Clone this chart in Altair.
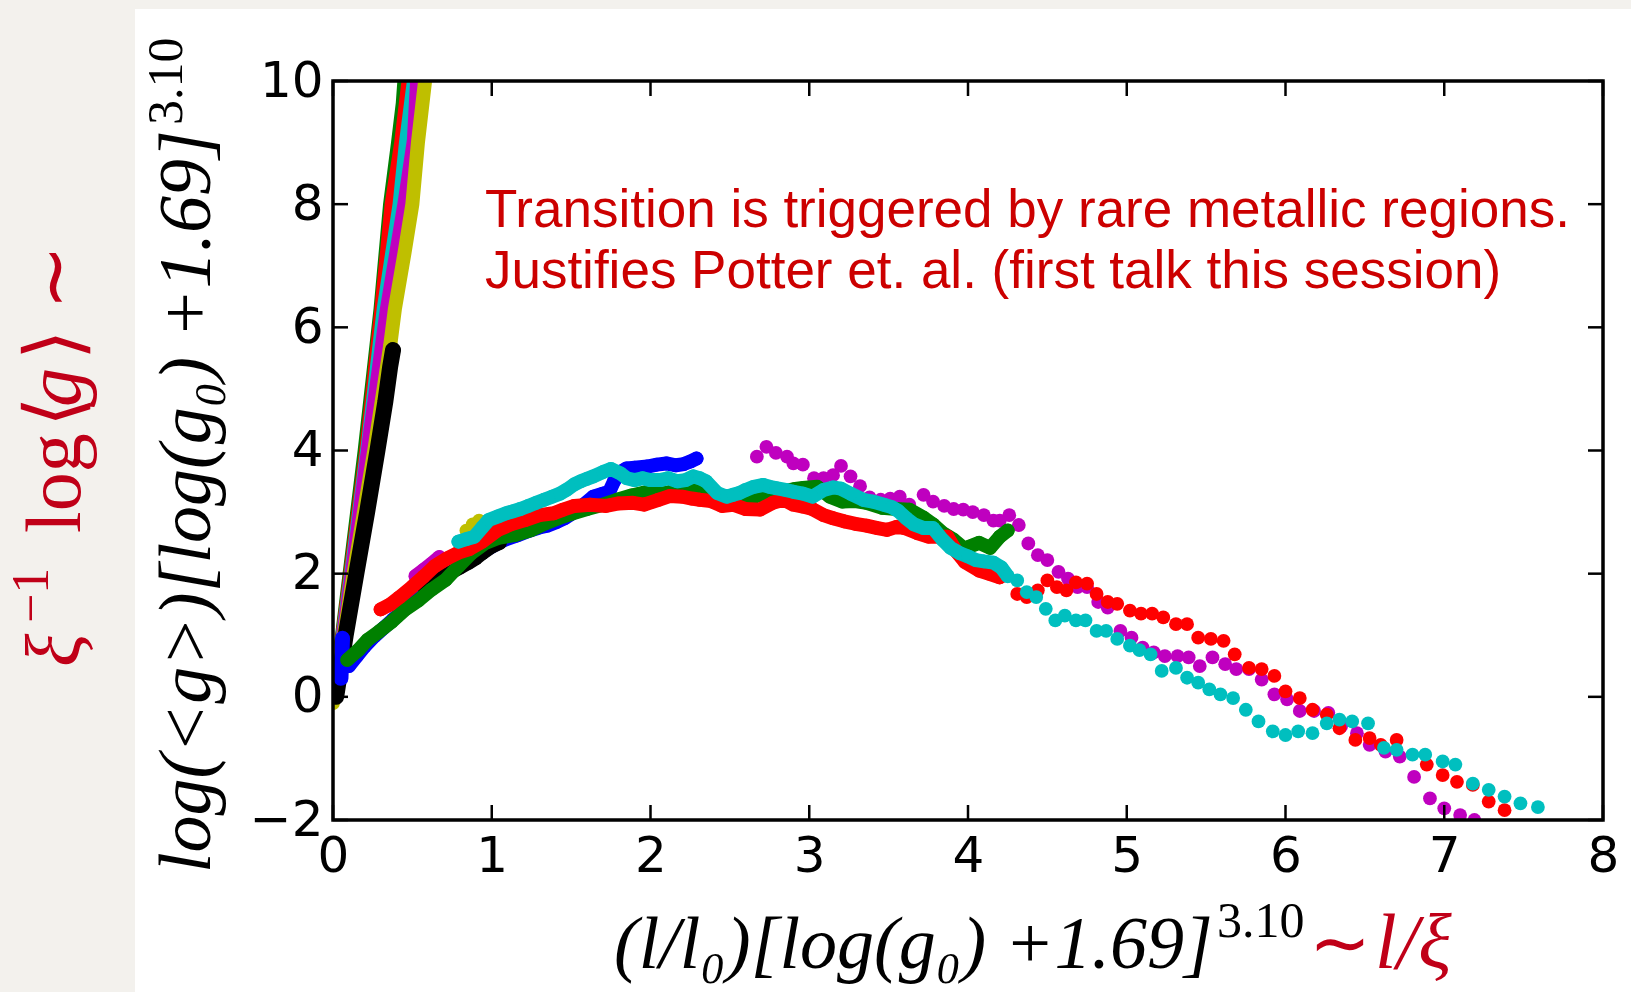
import altair as alt
import pandas as pd

# ---------------- data ----------------
X_TICKS = [0, 1, 2, 3, 4, 5, 6, 7, 8]
Y_TICKS = [-2, 0, 2, 4, 6, 8, 10]

# steep (upper) branch, continuous bands of dots: vertices read along each band
STEEP_GREEN_X = [0.00, 0.095, 0.19, 0.29, 0.35, 0.40, 0.43, 0.44]
STEEP_GREEN_Y = [0.00, 2.00, 4.00, 6.30, 8.00, 9.00, 9.64, 10.00]
STEEP_RED_X = [0.00, 0.10, 0.20, 0.296, 0.36, 0.42, 0.466]
STEEP_RED_Y = [0.00, 2.00, 4.00, 6.30, 8.00, 9.00, 10.00]
STEEP_CYAN_X = [0.00, 0.105, 0.214, 0.31, 0.41, 0.45, 0.50]
STEEP_CYAN_Y = [0.00, 2.00, 4.17, 6.30, 8.00, 9.00, 10.00]
STEEP_MAGENTA_X = [0.00, 0.11, 0.22, 0.33, 0.44, 0.50, 0.52]
STEEP_MAGENTA_Y = [0.00, 2.00, 4.20, 6.30, 8.00, 9.04, 10.00]
STEEP_YELLOW_X = [0.00, 0.07, 0.13, 0.26, 0.36, 0.39, 0.45, 0.50, 0.535, 0.58]
STEEP_YELLOW_Y = [-0.10, 1.00, 2.00, 4.00, 5.70, 6.30, 7.20, 8.00, 9.00, 10.00]
STEEP_BLACK_X = [0.02, 0.08, 0.147, 0.215, 0.28, 0.33, 0.36, 0.378]
STEEP_BLACK_Y = [0.00, 1.00, 2.00, 3.00, 4.00, 4.80, 5.36, 5.63]
STEEP_BLUE_X = [0.05, 0.055, 0.06]
STEEP_BLUE_Y = [0.30, 0.62, 0.95]

# arched (lower) branch, dots
YELLOW_ARCH_X = [0.84, 0.88, 0.92]
YELLOW_ARCH_Y = [2.70, 2.80, 2.86]

MAGENTA_EARLY_X = [0.52, 0.57, 0.62, 0.67]
MAGENTA_EARLY_Y = [1.96, 2.06, 2.16, 2.27]

MAGENTA_TAIL_X = [2.67, 2.73, 2.79, 2.86, 2.90, 2.96, 3.03, 3.09, 3.15, 3.20,
                  3.26, 3.32, 3.38, 3.45, 3.51, 3.57, 3.63, 3.72, 3.78, 3.85,
                  3.91, 3.97, 4.03, 4.10, 4.16, 4.20, 4.26, 4.32, 4.38, 4.44,
                  4.50, 4.57, 4.63, 4.69, 4.75, 4.82, 4.88, 4.96, 5.03, 5.10,
                  5.17, 5.24, 5.32, 5.39, 5.46, 5.54, 5.62, 5.69, 5.77, 5.85,
                  5.93, 6.01, 6.09, 6.18, 6.27, 6.35, 6.45, 6.53, 6.63, 6.72,
                  6.81, 6.91, 7.00, 7.10, 7.19]
MAGENTA_TAIL_Y = [3.90, 4.06, 3.96, 3.90, 3.79, 3.77, 3.55, 3.55, 3.60, 3.75,
                  3.58, 3.42, 3.24, 3.20, 3.22, 3.25, 3.12, 3.28, 3.17, 3.10,
                  3.05, 3.04, 3.00, 2.95, 2.86, 2.86, 2.95, 2.79, 2.49, 2.30,
                  2.22, 2.03, 1.92, 1.78, 1.78, 1.54, 1.45, 1.07, 0.96, 0.80,
                  0.72, 0.66, 0.66, 0.64, 0.50, 0.64, 0.53, 0.45, 0.45, 0.28,
                  0.04, -0.04, -0.23, -0.23, -0.26, -0.48, -0.59, -0.78, -0.89, -0.97,
                  -1.30, -1.65, -1.81, -1.92, -2.00]

BLUE_ARCH_X = [0.10, 0.15, 0.20, 0.26, 0.32, 0.38, 0.45, 0.52, 0.60, 0.70,
               0.80, 0.90, 1.00, 1.08, 1.16, 1.24, 1.30, 1.35, 1.41, 1.46,
               1.52, 1.58, 1.64, 1.70, 1.74, 1.77, 1.81, 1.85, 1.90, 1.98,
               2.04, 2.10, 2.16, 2.21, 2.25, 2.29]
BLUE_ARCH_Y = [0.50, 0.66, 0.82, 0.98, 1.12, 1.26, 1.42, 1.58, 1.75, 1.95,
               2.12, 2.28, 2.44, 2.55, 2.62, 2.70, 2.75, 2.78, 2.84, 2.90,
               3.00, 3.12, 3.25, 3.30, 3.33, 3.50, 3.65, 3.71, 3.72, 3.74,
               3.77, 3.79, 3.76, 3.78, 3.82, 3.87]

BLACK_ARCH_X = [0.58, 0.64, 0.70, 0.75, 0.80, 0.85, 0.90, 0.94, 1.00, 1.05, 1.16]
BLACK_ARCH_Y = [1.75, 1.90, 1.97, 2.03, 2.10, 2.17, 2.25, 2.33, 2.44, 2.50, 2.87]

GREEN_ARCH_X = [0.09, 0.16, 0.22, 0.29, 0.37, 0.45, 0.54, 0.62, 0.71, 0.79,
                0.87, 0.96, 1.04, 1.15, 1.25, 1.34, 1.42, 1.50, 1.60, 1.70,
                1.79, 1.88, 1.98, 2.08, 2.18, 2.31, 2.38, 2.44, 2.52, 2.60,
                2.70, 2.80, 2.90, 2.96, 3.05, 3.13, 3.21, 3.29, 3.36, 3.46,
                3.55, 3.63, 3.72, 3.78, 3.84, 3.91, 3.98, 4.01, 4.07, 4.14,
                4.20, 4.25]
GREEN_ARCH_Y = [0.60, 0.76, 0.93, 1.06, 1.22, 1.41, 1.57, 1.74, 1.90, 2.12,
                2.33, 2.50, 2.58, 2.63, 2.71, 2.82, 2.90, 2.97, 3.05, 3.12,
                3.20, 3.27, 3.33, 3.30, 3.36, 3.39, 3.25, 3.12, 3.17, 3.22,
                3.28, 3.32, 3.37, 3.39, 3.41, 3.25, 3.17, 3.18, 3.15, 3.07,
                3.05, 3.04, 2.91, 2.80, 2.66, 2.55, 2.40, 2.44, 2.50, 2.42,
                2.60, 2.70]

RED_ARCH_X = [0.30, 0.36, 0.42, 0.50, 0.57, 0.64, 0.72, 0.79, 0.86, 0.94,
              1.04, 1.12, 1.21, 1.30, 1.39, 1.45, 1.52, 1.62, 1.72, 1.80,
              1.89, 1.96, 2.05, 2.12, 2.20, 2.26, 2.31, 2.38, 2.45, 2.52,
              2.60, 2.69, 2.77, 2.84, 2.90, 2.96, 3.02, 3.09, 3.15, 3.22,
              3.29, 3.36, 3.43, 3.49, 3.55, 3.60, 3.68, 3.75, 3.82, 3.87,
              3.93, 3.98, 4.07, 4.13, 4.20, 4.31, 4.37, 4.44, 4.50, 4.56,
              4.62, 4.68, 4.75, 4.81, 4.88, 4.94, 5.02, 5.09, 5.16, 5.23,
              5.31, 5.38, 5.45, 5.53, 5.61, 5.68, 5.77, 5.85, 5.93, 6.00,
              6.09, 6.17, 6.26, 6.34, 6.44, 6.53, 6.60, 6.70, 6.89, 6.99,
              7.08, 7.18, 7.28, 7.38]
RED_ARCH_Y = [1.42, 1.50, 1.62, 1.79, 1.95, 2.12, 2.25, 2.34, 2.40, 2.52,
              2.71, 2.80, 2.87, 2.95, 2.98, 3.04, 3.10, 3.12, 3.10, 3.14,
              3.15, 3.12, 3.20, 3.26, 3.25, 3.22, 3.20, 3.18, 3.10, 3.12,
              3.05, 3.04, 3.15, 3.20, 3.12, 3.09, 3.05, 2.95, 2.90, 2.85,
              2.81, 2.78, 2.74, 2.71, 2.76, 2.74, 2.66, 2.60, 2.60, 2.60,
              2.35, 2.19, 2.05, 2.00, 1.94, 1.67, 1.62, 1.73, 1.89, 1.78,
              1.73, 1.86, 1.84, 1.67, 1.54, 1.51, 1.40, 1.35, 1.35, 1.29,
              1.18, 1.18, 0.96, 0.94, 0.91, 0.69, 0.47, 0.45, 0.34, 0.09,
              -0.02, -0.21, -0.29, -0.51, -0.70, -0.67, -0.78, -0.70, -1.10, -1.27,
              -1.38, -1.43, -1.70, -1.84]

CYAN_ARCH_X = [0.79, 0.84, 0.89, 0.94, 0.98, 1.04, 1.09, 1.13, 1.18, 1.23,
               1.28, 1.33, 1.38, 1.43, 1.47, 1.52, 1.56, 1.60, 1.64, 1.70,
               1.75, 1.81, 1.85, 1.90, 1.95, 2.00, 2.06, 2.11, 2.17, 2.22,
               2.27, 2.31, 2.35, 2.42, 2.48, 2.52, 2.56, 2.60, 2.65, 2.71,
               2.75, 2.79, 2.85, 2.90, 2.96, 3.02, 3.09, 3.15, 3.20, 3.26,
               3.34, 3.40, 3.47, 3.52, 3.56, 3.61, 3.66, 3.72, 3.78, 3.84,
               3.89, 3.95, 4.00, 4.05, 4.10, 4.16, 4.21, 4.25, 4.31, 4.37,
               4.43, 4.49, 4.55, 4.61, 4.68, 4.74, 4.81, 4.87, 4.94, 5.02,
               5.08, 5.15, 5.22, 5.31, 5.38, 5.45, 5.52, 5.59, 5.67, 5.75,
               5.83, 5.92, 6.00, 6.08, 6.17, 6.26, 6.34, 6.42, 6.52, 6.62,
               6.70, 6.80, 6.88, 6.99, 7.07, 7.18, 7.28, 7.38, 7.48, 7.59]
CYAN_ARCH_Y = [2.52, 2.56, 2.60, 2.75, 2.87, 2.93, 2.98, 3.01, 3.05, 3.10,
               3.15, 3.20, 3.25, 3.30, 3.36, 3.45, 3.50, 3.54, 3.58, 3.65,
               3.70, 3.63, 3.55, 3.52, 3.55, 3.52, 3.52, 3.55, 3.50, 3.52,
               3.58, 3.55, 3.50, 3.31, 3.25, 3.28, 3.31, 3.36, 3.41, 3.44,
               3.41, 3.39, 3.36, 3.33, 3.30, 3.25, 3.36, 3.40, 3.38, 3.30,
               3.20, 3.17, 3.12, 3.08, 3.02, 2.90, 2.80, 2.74, 2.74, 2.55,
               2.42, 2.33, 2.28, 2.22, 2.20, 2.18, 2.10, 1.96, 1.89, 1.70,
               1.62, 1.43, 1.24, 1.32, 1.24, 1.24, 1.07, 1.07, 0.94, 0.83,
               0.76, 0.69, 0.42, 0.47, 0.31, 0.23, 0.12, 0.04, -0.02, -0.21,
               -0.40, -0.56, -0.62, -0.56, -0.59, -0.43, -0.37, -0.40, -0.43, -0.83,
               -0.86, -0.94, -0.94, -1.05, -1.10, -1.41, -1.51, -1.62, -1.73, -1.79]

# number of leading points of each arch that merge into a continuous band
RED_BAND_N = 55
CYAN_BAND_N = 68
BLACK_BAND_N = 10

ANNOTATION = ["Transition is triggered by rare metallic regions.",
              "Justifies Potter et. al. (first talk this session)"]
ANNOT_X = [0.957, 0.957]
ANNOT_Y = [7.63, 6.64]

# ---------------- styling ----------------
W, H = 1270, 739
C_B, C_G, C_R = "#0000ff", "#008000", "#ff0000"
C_C, C_M, C_Y, C_K = "#00bfbf", "#bf00bf", "#bfbf00", "#000000"
SLIDE_RED = "#c00018"
NOTE_RED = "#cc0000"
SERIF = "Liberation Serif"
DOT = 190
BANDW = 14

SX = alt.Scale(domain=[0, 8], nice=False, zero=False)
SY = alt.Scale(domain=[-2, 10], nice=False, zero=False)
AX_X = alt.Axis(values=X_TICKS, labelFontSize=50, labelFont="DejaVu Sans",
                labelColor="black", labelPadding=11, ticks=False, tickSize=0,
                domain=False, grid=False, title=None, labelFlush=False,
                labelOverlap=False, labelAngle=0, format="d", zindex=2)
AX_Y = alt.Axis(values=Y_TICKS, labelFontSize=50, labelFont="DejaVu Sans",
                labelColor="black", labelPadding=10, ticks=False, tickSize=0,
                domain=False, grid=False, title=None, labelFlush=False,
                labelOverlap=False, format="d", zindex=2,
                labelExpr="datum.value < 0 ? '\u2212' + (-datum.value) : datum.label")

ONE = pd.DataFrame({"k": [0]})


def xy(xs, ys):
    return pd.DataFrame({"x": xs, "y": ys, "i": list(range(len(xs)))})


def enc():
    return dict(x=alt.X("x:Q", scale=SX, axis=AX_X),
                y=alt.Y("y:Q", scale=SY, axis=AX_Y))


def band(xs, ys, color, w=BANDW):
    return alt.Chart(xy(xs, ys)).mark_line(
        color=color, strokeWidth=w, strokeCap="round", strokeJoin="round",
        clip=True).encode(order="i:Q", **enc())


def dots(xs, ys, color, size=DOT):
    return alt.Chart(xy(xs, ys)).mark_circle(
        color=color, size=size, opacity=1, clip=True).encode(**enc())


def label(text, px, py, size, color="black", italic=False, angle=0):
    kw = dict(align="left", baseline="alphabetic", font=SERIF, fontSize=size,
              color=color, angle=angle)
    if italic:
        kw["fontStyle"] = "italic"
    return alt.Chart(ONE).mark_text(**kw).encode(
        x=alt.value(px), y=alt.value(py), text=alt.value(text))


panel = alt.Chart(ONE).mark_rect(color="white").encode(
    x=alt.value(-198), x2=alt.value(1298), y=alt.value(-72), y2=alt.value(911))

layers = [panel]
# steep branch
layers += [
    band(STEEP_GREEN_X, STEEP_GREEN_Y, C_G, 11),
    band(STEEP_RED_X, STEEP_RED_Y, C_R, 11),
    band(STEEP_CYAN_X, STEEP_CYAN_Y, C_C, 11),
    band(STEEP_MAGENTA_X, STEEP_MAGENTA_Y, C_M, 11),
    band(STEEP_YELLOW_X, STEEP_YELLOW_Y, C_Y, 14),
    band(STEEP_BLACK_X, STEEP_BLACK_Y, C_K, 16),
    dots(STEEP_BLACK_X[-1:], STEEP_BLACK_Y[-1:], C_K, 230),
    band(STEEP_BLUE_X, STEEP_BLUE_Y, C_B, 15),
]
# arch branch
layers += [
    dots(YELLOW_ARCH_X, YELLOW_ARCH_Y, C_Y),
    band(MAGENTA_EARLY_X, MAGENTA_EARLY_Y, C_M),
    dots(MAGENTA_EARLY_X, MAGENTA_EARLY_Y, C_M),
    dots(MAGENTA_TAIL_X, MAGENTA_TAIL_Y, C_M),
    band(BLUE_ARCH_X, BLUE_ARCH_Y, C_B),
    dots(BLUE_ARCH_X, BLUE_ARCH_Y, C_B),
    band(BLACK_ARCH_X[:BLACK_BAND_N], BLACK_ARCH_Y[:BLACK_BAND_N], C_K),
    dots(BLACK_ARCH_X, BLACK_ARCH_Y, C_K),
    band(GREEN_ARCH_X, GREEN_ARCH_Y, C_G),
    dots(GREEN_ARCH_X, GREEN_ARCH_Y, C_G),
    band(RED_ARCH_X[:RED_BAND_N], RED_ARCH_Y[:RED_BAND_N], C_R),
    dots(RED_ARCH_X, RED_ARCH_Y, C_R),
    band(CYAN_ARCH_X[:CYAN_BAND_N], CYAN_ARCH_Y[:CYAN_BAND_N], C_C),
    dots(CYAN_ARCH_X, CYAN_ARCH_Y, C_C),
]

# inward ticks on all four sides
ytk = pd.DataFrame({"t": Y_TICKS})
xtk = pd.DataFrame({"t": X_TICKS})
tick_style = dict(color="black", strokeWidth=2.5)
layers += [
    alt.Chart(ytk).mark_rule(**tick_style).encode(
        y=alt.Y("t:Q", scale=SY, axis=AX_Y), x=alt.value(0), x2=alt.value(15)),
    alt.Chart(ytk).mark_rule(**tick_style).encode(
        y=alt.Y("t:Q", scale=SY, axis=AX_Y), x=alt.value(W), x2=alt.value(W - 15)),
    alt.Chart(xtk).mark_rule(**tick_style).encode(
        x=alt.X("t:Q", scale=SX, axis=AX_X), y=alt.value(H), y2=alt.value(H - 15)),
    alt.Chart(xtk).mark_rule(**tick_style).encode(
        x=alt.X("t:Q", scale=SX, axis=AX_X), y=alt.value(0), y2=alt.value(15)),
]

frame = alt.Chart(ONE).mark_rect(fillOpacity=0, stroke="black", strokeWidth=3.5).encode(
    x=alt.value(0), x2=alt.value(W), y=alt.value(0), y2=alt.value(H))
layers.append(frame)

annot = alt.Chart(pd.DataFrame({"x": ANNOT_X, "y": ANNOT_Y, "t": ANNOTATION})).mark_text(
    align="left", baseline="alphabetic", font="Liberation Sans", fontSize=53,
    color=NOTE_RED).encode(
    x=alt.X("x:Q", scale=SX, axis=AX_X), y=alt.Y("y:Q", scale=SY, axis=AX_Y), text="t:N")
layers.append(annot)

# axis titles (mathtext look) and slide annotations
layers += [
    # y title, rotated
    label("log(<g>)[log(g\u2080) +1.69]", -123, 792, 74, italic=True, angle=270),
    label("3.10", -151, 44, 50, angle=270),
    # x title
    label("(l/l\u2080)[log(g\u2080) +1.69]", 281, 887, 74, italic=True),
    label("3.10", 884, 856, 50),
    label("\u223c", 976, 887, 74, color=SLIDE_RED),
    label("l/\u03be", 1042, 887, 78, color=SLIDE_RED, italic=True),
    # left red slide text, rotated
    label("\u03be", -253, 586, 78, color=SLIDE_RED, italic=True, angle=270),
    label("\u22121", -285, 542, 52, color=SLIDE_RED, angle=270),
    label("log", -253, 452, 78, color=SLIDE_RED, angle=270),
    label("\u27e8", -253, 346, 78, color=SLIDE_RED, angle=270),
    label("g", -253, 326, 78, color=SLIDE_RED, italic=True, angle=270),
    label("\u27e9", -253, 279, 78, color=SLIDE_RED, angle=270),
    label("\u223c", -253, 229, 78, color=SLIDE_RED, angle=270),
]

chart = alt.layer(*layers).properties(
    width=W, height=H,
    autosize=alt.AutoSizeParams(type="none"),
    padding={"left": 333, "top": 81, "right": 28, "bottom": 172},
).configure(background="#f3f1ed").configure_view(strokeWidth=0)

chart.save("out.html", embed_options={"renderer": "svg", "actions": False})
